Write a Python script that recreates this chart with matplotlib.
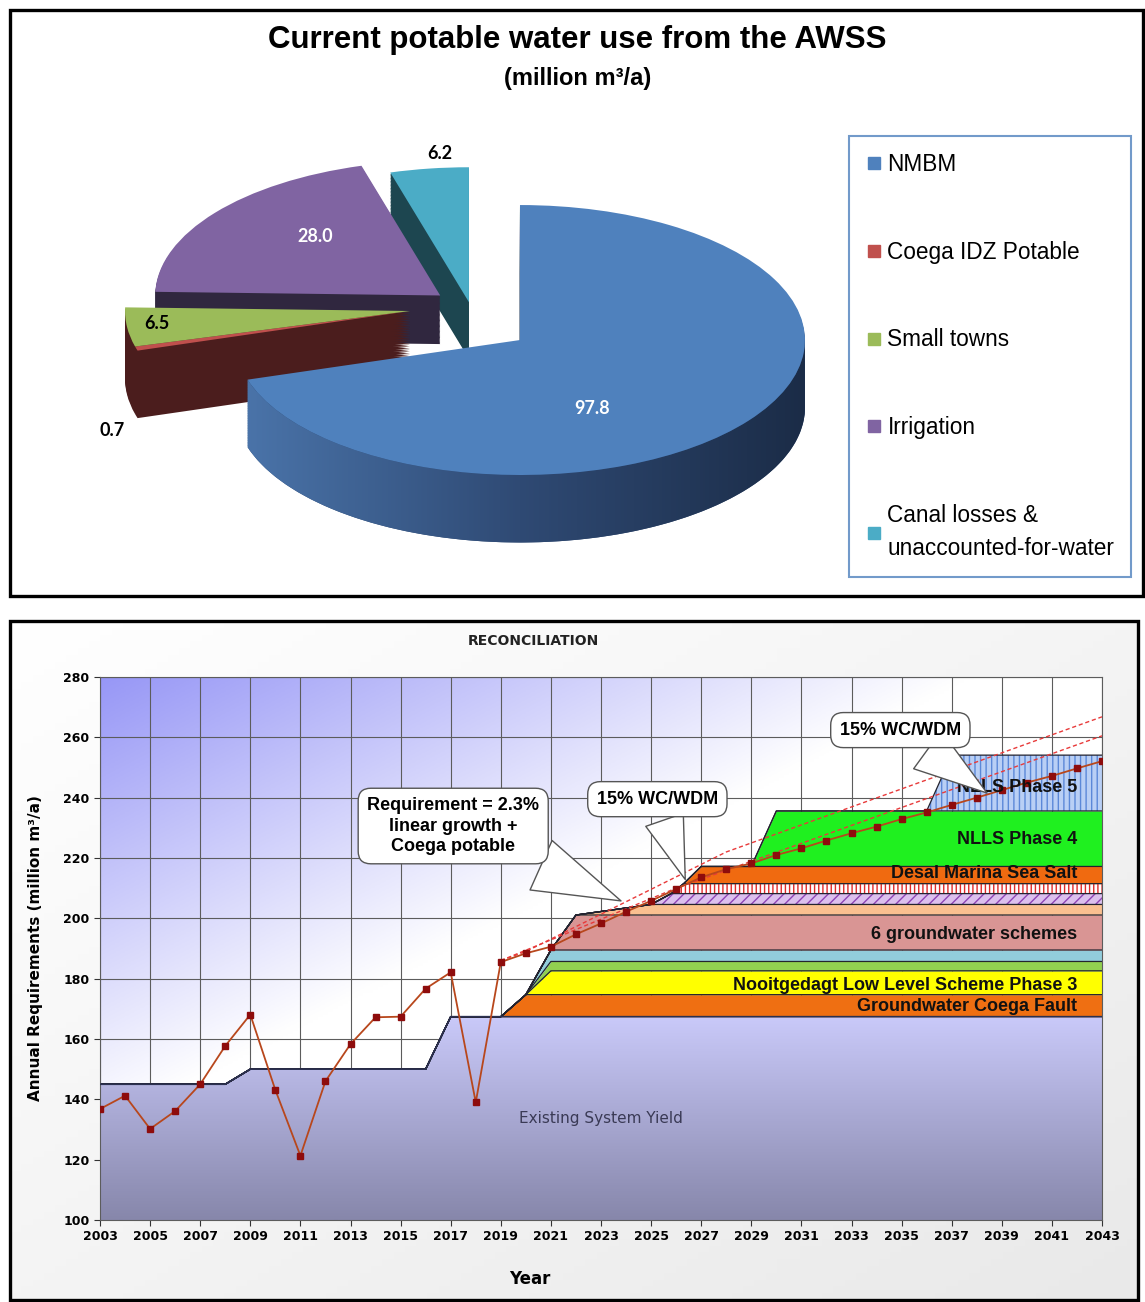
import numpy as np
import matplotlib
matplotlib.use('Agg')
import matplotlib.pyplot as plt
from matplotlib.lines import Line2D
from matplotlib.patches import Rectangle
from matplotlib.path import Path
from matplotlib.colors import to_rgb, LinearSegmentedColormap

W, H = 1145, 1302

# ---- pie: current potable water use (million m3/a)
pie_labels = ['NMBM', 'Coega IDZ Potable', 'Small towns', 'Irrigation',
              'Canal losses &\nunaccounted-for-water']
pie_values = [97.8, 0.7, 6.5, 28.0, 6.2]
pie_text = ['97.8', '0.7', '6.5', '28.0', '6.2']

# ---- reconciliation chart
years = list(range(2003, 2044))
requirement = [136.8, 141.2, 130.2, 136.1, 145.0, 157.7, 168.1, 143.1, 121.3, 146.0,
               158.3, 167.2, 167.4, 176.7, 182.1, 139.0, 185.5, 188.4, 190.6, 194.7,
               198.3, 202.2, 205.8, 209.7, 213.6, 216.3, 218.2, 221.0, 223.2, 225.8,
               228.2, 230.4, 232.9, 235.1, 237.6, 240.0, 242.5, 245.0, 247.2, 249.7,
               252.1]
yield_years = [2003, 2008, 2009, 2016, 2017, 2043]
yield_vals = [145.0, 145.0, 150.0, 150.0, 167.4, 167.4]
dash_a_years = [2019, 2020, 2028, 2043]
dash_a_vals = [186.0, 189.0, 222.0, 266.8]
dash_b_years = [2019, 2026, 2043]
dash_b_vals = [186.0, 210.0, 260.5]

layer_names = ['Groundwater Coega Fault', 'Nooitgedagt Low Level Scheme Phase 3', '', '',
               '6 groundwater schemes', '', '', '', 'Desal Marina Sea Salt',
               'NLLS Phase 4', 'NLLS Phase 5']
layer_size = [7.3, 7.9, 3.1, 3.8, 11.6, 3.5, 3.6, 3.3, 5.7, 18.4, 18.5]
layer_start = [2019, 2020, 2020, 2020, 2021, 2022, 2025, 2025.8, 2026.3, 2029, 2036]
layer_full = [2020, 2021, 2021, 2021, 2022, 2025, 2025.8, 2026.3, 2027, 2030, 2037]

# styles
layer_fc = ['#ef6f12', '#ffff00', '#92d050', '#92cddc', '#d99594', '#fac090',
            '#dcc0ee', '#ffffff', '#f06a10', '#1ff01f', '#b9cff5']
layer_hatch = [None, None, None, None, None, None, '///', '||||', None, None, '|||']
layer_hc = ['k', 'k', 'k', 'k', 'k', 'k', '#8e44b5', '#e02828', 'k', 'k', '#5b88d8']

plt.rcParams['hatch.linewidth'] = 1.0
narrow = ['Liberation Sans Narrow', 'Liberation Sans', 'DejaVu Sans']
arial = ['Liberation Sans', 'DejaVu Sans']

fig = plt.figure(figsize=(W / 100, H / 100), dpi=100)

# ================= top panel =================
fig.add_artist(Rectangle((10 / W, 1 - 596 / H), 1133 / W, 586 / H, transform=fig.transFigure,
                         fill=False, lw=2.4, ec='black'))
fig.text(577 / W, 1 - 40 / H, 'Current potable water use from the AWSS', ha='center', va='center',
         fontsize=22.5, fontweight='bold', family=narrow)
fig.text(578 / W, 1 - 78 / H, '(million m³/a)', ha='center', va='center',
         fontsize=17, fontweight='bold', family=narrow)

top_cols = ['#4f81bd', '#c0504d', '#9bbb59', '#8064a2', '#4bacc6']
side_cols = ['#2c4770', '#4b1d1d', '#4b1d1d', '#30273f', '#1d4650']
# pulled-out position and side height of each slice (pie units)
slice_offset = [(0.0, 0.0), (-0.386, 0.215), (-0.386, 0.215), (-0.28, 0.33), (-0.179, 0.28)]
slice_depth = [0.5, 0.5, 0.5, 0.36, 0.42]

axp = fig.add_axes([80 / W, 1 - 590 / H, 760 / W, 460 / H])
nlay = 40
for k in range(nlay, 0, -1):
    ws, _ = axp.pie(pie_values, colors=side_cols, startangle=90, counterclock=False,
                    frame=True, wedgeprops=dict(lw=0, zorder=1))
    for w, (ox, oy), dp in zip(ws, slice_offset, slice_depth):
        w.set_center((ox, oy - dp * k / nlay))
wedges, _ = axp.pie(pie_values, colors=top_cols, startangle=90,
                    counterclock=False, frame=True, wedgeprops=dict(lw=0, zorder=3))
for w, off in zip(wedges, slice_offset):
    w.set_center(off)

# shaded front side of the big slice
blue = wedges[0]
a0 = np.radians(max(blue.theta1, -180))
a1 = np.radians(min(blue.theta2, 0))
ts = np.linspace(a0, a1, 120)
cx, cy = blue.center
top_arc = np.column_stack([cx + np.cos(ts), cy + np.sin(ts)])
bot_arc = np.column_stack([cx + np.cos(ts[::-1]), cy + np.sin(ts[::-1]) - slice_depth[0]])
band = Path(np.vstack([top_arc, bot_arc, top_arc[:1]]), closed=True)
side_cmap = LinearSegmentedColormap.from_list('side', ['#4b75ab', '#2f4a74', '#1b2c47'])
im = axp.imshow(np.linspace(0, 1, 256)[None, :], extent=[-1, 1, -1.6, 0.2], aspect='auto',
                cmap=side_cmap, zorder=2)
im.set_clip_path(band, transform=axp.transData)

label_pos = [(0.253, -0.504), (-1.432, -0.667), (-1.274, 0.126), (-0.719, 0.770), (-0.281, 1.385)]
label_col = ['white', 'black', 'black', 'white', 'black']
for txt, (lx, ly), c in zip(pie_text, label_pos, label_col):
    axp.text(lx, ly, txt, ha='center', va='center', color=c, fontsize=13, fontweight='bold',
             family=['Lato', 'DejaVu Sans'], zorder=5)
axp.set_aspect('auto')
axp.set_xlim(-1.544, 1.123)
axp.set_ylim(-1.852, 1.556)
axp.axis('off')

handles = [Line2D([], [], marker='s', ls='none', color=c, markersize=8) for c in top_cols]
leg = fig.legend(handles, pie_labels, loc='upper left', bbox_to_anchor=(849 / W, 1 - 136 / H),
                 frameon=True, fancybox=False, edgecolor='#4f81bd', borderaxespad=0,
                 prop=dict(family=narrow, size=16.3), labelspacing=2.86, handletextpad=0.25,
                 handlelength=0.7, borderpad=0.75)
leg.get_frame().set_linewidth(1.5)
leg.get_texts()[-1].set_linespacing(1.55)

# ================= bottom panel =================
bg = fig.add_axes([10 / W, 2 / H, 1128 / W, 679 / H], zorder=-1)
gu = np.linspace(0, 1, 100)[None, :]
gv = np.linspace(0, 1, 100)[:, None]
gt = np.clip(0.5 * gu + 0.5 * gv, 0, 1)[..., None]
bg.imshow(np.array([1, 1, 1]) * (1 - gt) + np.array(to_rgb('#e9e9e9')) * gt,
          aspect='auto', extent=[0, 1, 0, 1])
bg.axis('off')
fig.add_artist(Rectangle((10 / W, 2 / H), 1128 / W, 679 / H, transform=fig.transFigure,
                         fill=False, lw=2.4, ec='black'))
fig.text(533 / W, 1 - 641 / H, 'RECONCILIATION', ha='center', va='center',
         fontsize=10, fontweight='bold', color='#222222')

ax = fig.add_axes([100 / W, 1 - 1220 / H, 1002 / W, 543 / H])

# plot area gradient
u = np.linspace(0, 1, 200)[None, :]
v = np.linspace(0, 1, 200)[:, None]
t = np.clip(1.15 * u + 1.2 * v, 0, 1)[..., None]
bgimg = np.array(to_rgb('#9797f6')) * (1 - t) + np.ones(3) * t
ax.imshow(bgimg, extent=[2003, 2043, 100, 280], aspect='auto', origin='upper', zorder=0)

x_eval = np.unique(np.concatenate([yield_years, layer_start, layer_full]))
base = np.interp(x_eval, yield_years, yield_vals)

# existing system yield
poly = ax.fill_between(x_eval, 100, base, facecolor='none', lw=0)
g = np.linspace(0, 1, 100)[:, None, None]
yimg = np.array(to_rgb('#8787ab')) * (1 - g) + np.array(to_rgb('#cacafa')) * g
im2 = ax.imshow(yimg, extent=[2003, 2043, 100, 168], aspect='auto', origin='lower', zorder=1.2)
im2.set_clip_path(poly.get_paths()[0], transform=ax.transData)

lower = base.copy()
tops = []
for size, s, f, fc, hat, hc in zip(layer_size, layer_start, layer_full, layer_fc, layer_hatch, layer_hc):
    upper = lower + size * np.clip((x_eval - s) / (f - s), 0, 1)
    ax.fill_between(x_eval, lower, upper, facecolor=fc, hatch=hat, edgecolor=hc, lw=0, zorder=2)
    tops.append(upper)
    lower = upper
for tp in tops:
    ax.plot(x_eval, tp, color='#23232f', lw=0.9, zorder=2.5)
ax.plot(x_eval, base, color='#2b3050', lw=1.2, zorder=2.6)

# requirement curves
ax.plot(dash_a_years, dash_a_vals, color='#e83a3a', lw=1.0, ls=(0, (3, 2)), zorder=4)
ax.plot(dash_b_years, dash_b_vals, color='#e83a3a', lw=1.0, ls=(0, (3, 2)), zorder=4)
ax.plot(years, requirement, color='#b8471c', lw=1.3, marker='s', markersize=4.5,
        markerfacecolor='#8e0c0c', markeredgecolor='#8e0c0c', zorder=4.5)

# layer labels
label_y = [170.9, 177.9, None, None, 194.8, None, None, None, 214.7, 226.0, 243.5]
for name, ly in zip(layer_names, label_y):
    if name:
        ax.text(2042.0, ly, name, ha='right', va='center', fontsize=13, fontweight='bold',
                family=arial, color='#111111', zorder=5)
ax.text(2023.0, 133.5, 'Existing System Yield', ha='center', va='center', fontsize=11,
        color='#3a3a55', zorder=5)

# callouts
callouts = [('Requirement = 2.3%\nlinear growth +\nCoega potable', (2017.1, 230.6), (2023.9, 205.4), 3.0),
            ('15% WC/WDM', (2025.25, 239.5), (2026.4, 212.0), 2.2),
            ('15% WC/WDM', (2034.95, 262.4), (2038.5, 241.0), 2.6)]
for txt, xyt, tip, tw in callouts:
    ax.annotate(txt, xy=tip, xytext=xyt, ha='center', va='center', fontsize=13,
                fontweight='bold', family=arial, linespacing=1.25, zorder=6,
                bbox=dict(boxstyle='round,pad=0.5,rounding_size=0.7', fc='white', ec='#555555', lw=1),
                arrowprops=dict(arrowstyle='wedge,tail_width=%s,shrink_factor=0.5' % tw,
                                fc='white', ec='#555555', lw=1))

ax.set_xlim(2003, 2043)
ax.set_ylim(100, 280)
ax.set_xticks(range(2003, 2044, 2))
ax.set_yticks(range(100, 281, 20))
ax.grid(True, color='#5c5c5c', lw=0.8)
ax.set_axisbelow(True)
ax.tick_params(direction='out', length=4, width=0.8, colors='#333333', labelsize=9,
               labelcolor='black')
for lab in ax.get_xticklabels() + ax.get_yticklabels():
    lab.set_fontweight('bold')
for sp in ax.spines.values():
    sp.set_color('#5c5c5c')
    sp.set_linewidth(0.8)
ax.set_xlabel('Year', fontsize=12, fontweight='bold')
ax.xaxis.set_label_coords(0.429, -0.092)
ax.set_ylabel('Annual Requirements (million m³/a)', fontsize=11, fontweight='bold')
ax.yaxis.set_label_coords(-0.057, 0.5)

fig.savefig('out.png', dpi=100)
